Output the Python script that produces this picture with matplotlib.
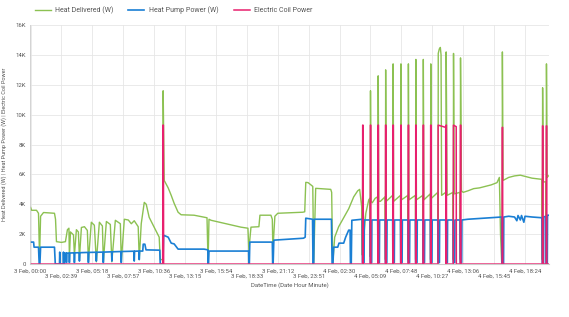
import matplotlib.pyplot as plt

plt.rcParams['font.family'] = ['Roboto', 'DejaVu Sans']

# hours since 3 Feb 00:00
tick_hours = [i * 2.65 for i in range(17)]
tick_labels = ['3 Feb, 00:00', '3 Feb, 02:39', '3 Feb, 05:18', '3 Feb, 07:57',
               '3 Feb, 10:36', '3 Feb, 13:15', '3 Feb, 15:54', '3 Feb, 18:33',
               '3 Feb, 21:12', '3 Feb, 23:51', '4 Feb, 02:30', '4 Feb, 05:09',
               '4 Feb, 07:48', '4 Feb, 10:27', '4 Feb, 13:06', '4 Feb, 15:45',
               '4 Feb, 18:24']
y_ticks = [0, 2000, 4000, 6000, 8000, 10000, 12000, 14000, 16000]
y_labels = ['0', '2K', '4K', '6K', '8K', '10K', '12K', '14K', '16K']

# Heat Delivered (W)
heat_t = [0.00, 0.09, 0.51, 0.68, 0.77, 0.86, 1.11, 2.05, 2.14, 2.22, 2.65, 2.99,
          3.16, 3.29, 3.33, 3.42, 3.68, 3.76, 3.93, 4.10, 4.19, 4.36, 4.62, 4.87,
          4.96, 5.21, 5.47, 5.64, 5.90, 6.16, 6.24, 6.50, 6.84, 6.97, 7.27, 7.70,
          7.78, 8.04, 8.38, 8.64, 8.89, 9.23, 9.32, 9.49, 9.75, 9.92, 10.17, 10.60,
          11.03, 11.12, 11.33, 11.37, 11.46, 11.80, 12.06, 12.31, 12.65, 12.91,
          14.02, 15.13, 15.22, 15.30, 15.48, 18.04, 18.64, 18.72, 18.90, 19.58,
          19.67, 20.61, 20.73, 20.78, 20.95, 21.20, 23.34, 23.51, 23.60, 23.80,
          24.20, 24.28, 24.45, 25.74, 25.82, 25.91, 26.08, 26.42, 26.85, 27.28,
          27.71, 28.05, 28.22, 28.40, 28.45, 28.49, 28.53, 28.60, 28.75, 29.00,
          29.10, 29.12, 29.15, 29.20, 29.30, 29.55, 29.75, 29.78, 29.81, 29.86,
          30.00, 30.40, 30.43, 30.45, 30.50, 31.05, 31.07, 31.09, 31.14, 31.72,
          31.74, 31.76, 31.81, 32.36, 32.38, 32.40, 32.45, 33.00, 33.02, 33.04,
          33.09, 33.64, 33.66, 33.68, 33.73, 34.28, 34.30, 34.32, 34.37, 34.92,
          34.94, 34.96, 35.05, 35.14, 35.20, 35.25, 35.60, 35.62, 35.64, 35.72,
          36.23, 36.25, 36.27, 36.33, 36.83, 36.85, 36.87, 36.95, 37.10, 37.50,
          38.00, 38.50, 39.00, 39.50, 40.00, 40.20, 40.30, 40.40, 40.44, 40.46,
          40.52, 41.00, 41.50, 42.00, 42.50, 43.00, 43.50, 43.85, 43.88, 43.91,
          43.97, 44.18, 44.21, 44.24, 44.30, 44.40]
heat_w = [3800, 3600, 3600, 3400, 400, 3200, 3450, 3400, 3000, 1500, 1450, 1500,
          2300, 2400, 450, 2150, 1950, 600, 2300, 2150, 400, 2450, 2500, 2250,
          200, 2800, 2600, 150, 2800, 2550, 150, 2850, 2650, 150, 2930, 2700,
          150, 3000, 2950, 2700, 2900, 2500, 300, 2700, 4130, 4000, 3130, 2470,
          1800, 300, 300, 11600, 5600, 5100, 4600, 4070, 3470, 3300,
          3270, 3100, 100, 3000, 2930, 2470, 2400, 930, 2470, 2500,
          3270, 3270, 3000, 930, 3200, 3400, 3470, 3500, 5470, 5450,
          5200, 100, 5070, 5000, 4800, 0, 1800, 2500, 3100, 3700,
          4500, 4900, 5000, 3800, 600, 9000, 3600, 2100, 3400, 4300,
          4400, 500, 11600, 4200, 4100, 4400, 4500, 400, 12600, 4200,
          4200, 4500, 300, 13000, 4200, 4600, 300, 13400, 4200, 4600,
          300, 13400, 4300, 4600, 300, 13400, 4300, 4600, 300, 13700,
          4300, 4600, 300, 13700, 4300, 4700, 300, 13400, 4400, 4800,
          300, 14100, 14400, 14500, 14000, 4600, 4800, 300, 14200, 4600,
          4800, 300, 14100, 4700, 4800, 300, 13800, 4900, 4800, 4900,
          5050, 5100, 5200, 5300, 5450, 5800, 2000, 100, 100, 14200,
          5600, 5800, 5900, 5950, 5850, 5750, 5700, 5670, 300, 11800,
          5500, 5500, 300, 13400, 5800, 5900]

# Heat Pump Power (W)
pump_t = [0.00, 0.26, 0.30, 0.68, 0.74, 0.80, 0.86, 2.05, 2.12, 2.48, 2.50, 2.53,
          2.80, 2.82, 2.85, 2.90, 2.93, 3.06, 3.08, 3.11, 3.31, 3.33, 3.36, 3.74,
          3.76, 3.79, 4.17, 4.19, 4.22, 4.94, 4.96, 4.99, 5.62, 5.64, 5.67, 6.22,
          6.24, 6.27, 6.95, 6.97, 7.00, 7.76, 7.78, 7.81, 8.87, 8.89, 8.92, 9.30,
          9.32, 9.35, 9.62, 9.66, 9.80, 9.90, 11.08, 11.12, 11.35, 11.41, 11.80,
          12.06, 12.31, 12.65, 14.88, 15.20, 15.22, 15.26, 15.30, 18.70, 18.72,
          18.76, 18.80, 20.73, 20.76, 20.80, 20.86, 23.40, 23.55, 23.60, 24.18,
          24.22, 24.28, 24.32, 25.80, 25.86, 25.93, 25.99, 26.34, 26.45, 26.85,
          27.02, 27.28, 27.40, 27.43, 27.50, 27.55, 28.44, 28.46, 28.60, 28.62,
          29.11, 29.13, 29.25, 29.27, 29.77, 29.79, 29.91, 29.93, 30.41, 30.43,
          30.55, 30.57, 31.05, 31.07, 31.19, 31.21, 31.72, 31.74, 31.86, 31.88,
          32.36, 32.38, 32.50, 32.52, 33.00, 33.02, 33.14, 33.16, 33.64, 33.66,
          33.78, 33.80, 34.28, 34.30, 34.42, 34.44, 34.92, 34.94, 35.06, 35.08,
          35.60, 35.62, 35.74, 35.76, 36.23, 36.25, 36.37, 36.39, 36.83, 36.85,
          36.97, 36.99, 37.50, 38.50, 39.50, 40.40, 40.42, 40.56, 40.58, 41.00,
          41.50, 41.70, 41.80, 42.00, 42.10, 42.30, 42.40, 43.00, 43.85, 43.88,
          43.99, 44.01, 44.18, 44.20, 44.31, 44.33, 44.40]
pump_w = [1470, 1470, 1130, 1130, 0, 0, 1130, 1130, 0, 0, 800, 0,
          0, 800, 0, 0, 730, 730, 100, 730, 740, 100, 740, 750,
          100, 750, 760, 200, 760, 780, 100, 780, 790, 200, 790, 800,
          100, 800, 820, 200, 820, 840, 100, 840, 860, 200, 860, 870,
          300, 870, 870, 1330, 1330, 950, 930, 0, 0, 1930, 1800,
          1400, 1350, 1000, 1000, 950, 0, 0, 870, 870, 0,
          0, 1470, 1470, 0, 0, 1600, 1730, 1800, 3070, 3000,
          0, 0, 3000, 3000, 0, 0, 1130, 1130, 1400, 1400,
          1800, 2270, 2270, 0, 0, 2930, 3000, 100, 100, 2950,
          2950, 100, 100, 2950, 2950, 100, 100, 2950, 2950, 100,
          100, 2950, 2950, 100, 100, 2950, 2950, 100, 100, 2950,
          2950, 100, 100, 2950, 2950, 100, 100, 2950, 2950, 100,
          100, 2950, 2950, 100, 100, 2950, 2950, 100, 100, 2950,
          2950, 100, 100, 2950, 2950, 100, 100, 2950, 2950, 100,
          100, 2950, 3000, 3050, 3100, 3150, 0, 0, 3150, 3200,
          3150, 2900, 3250, 2950, 3250, 2800, 3200, 3150, 3100, 0,
          0, 3150, 3200, 0, 0, 3270, 3270]

# Electric Coil Power
coil_t = [0.00, 11.33, 11.35, 11.39, 11.41, 28.47, 28.48, 28.51, 28.52,
          29.13, 29.14, 29.17, 29.18, 29.79, 29.80, 29.83, 29.84,
          30.43, 30.44, 30.47, 30.48, 31.07, 31.08, 31.11, 31.12,
          31.74, 31.75, 31.78, 31.79, 32.38, 32.39, 32.42, 32.43,
          33.02, 33.03, 33.06, 33.07, 33.66, 33.67, 33.70, 33.71,
          34.30, 34.31, 34.34, 34.35, 34.94, 34.95, 35.60, 35.61,
          35.62, 35.63, 35.66, 35.67, 36.25, 36.26, 36.50, 36.51,
          36.85, 36.86, 36.89, 36.90, 40.44, 40.45, 40.48, 40.49,
          43.89, 43.90, 43.93, 43.94, 44.22, 44.23, 44.26, 44.27, 44.40]
coil_w = [0, 0, 9300, 9300, 0, 0, 9300, 9300, 0,
          0, 9300, 9300, 0, 0, 9300, 9300, 0,
          0, 9300, 9300, 0, 0, 9300, 9300, 0,
          0, 9300, 9300, 0, 0, 9300, 9300, 0,
          0, 9300, 9300, 0, 0, 9300, 9300, 0,
          0, 9300, 9300, 0, 0, 9300, 9150, 0,
          0, 9300, 9300, 0, 0, 9300, 9200, 0,
          0, 9300, 9300, 0, 0, 9150, 9150, 0,
          0, 9250, 9250, 0, 0, 9250, 9250, 0, 0]

fig = plt.figure(figsize=(5.69, 3.17), dpi=100)
ax = fig.add_axes([0.0527, 0.167, 0.912, 0.754])

ax.plot(heat_t, heat_w, color='#8cc152', lw=1.0, label='Heat Delivered (W)')
ax.plot(pump_t, pump_w, color='#1a7fd4', lw=1.2, label='Heat Pump Power (W)')
ax.plot(coil_t, coil_w, color='#e8206e', lw=1.1, label='Electric Coil Power')

ax.set_xlim(-0.05, 44.45)
ax.set_ylim(0, 16000)
ax.set_yticks(y_ticks)
ax.set_yticklabels(y_labels)
ax.set_xticks(tick_hours)
ax.set_xticklabels([lab if i % 2 == 0 else '\n' + lab for i, lab in enumerate(tick_labels)])

ax.grid(True, color='#e6e6e6', lw=0.6)
ax.set_axisbelow(True)
for s in ['top', 'right']:
    ax.spines[s].set_visible(False)
ax.spines['left'].set_color('#cccccc')
ax.spines['left'].set_linewidth(0.6)
ax.spines['bottom'].set_color('#cccccc')
ax.tick_params(length=0, labelsize=4.3, labelcolor='#555555', pad=3)

ax.set_xlabel('DateTime (Date Hour Minute)', fontsize=4.3, color='#555555', labelpad=2)
ax.set_ylabel('Heat Delivered (W) | Heat Pump Power (W) | Electric Coil Power',
              fontsize=4.0, color='#555555', labelpad=6)

fig.legend(loc='upper left', bbox_to_anchor=(0.05, 1.0), ncol=3, frameon=False,
           fontsize=5, labelcolor='#555555', handlelength=2.3, columnspacing=2.2,
           handletextpad=0.6)

fig.savefig('out.png', dpi=100)
